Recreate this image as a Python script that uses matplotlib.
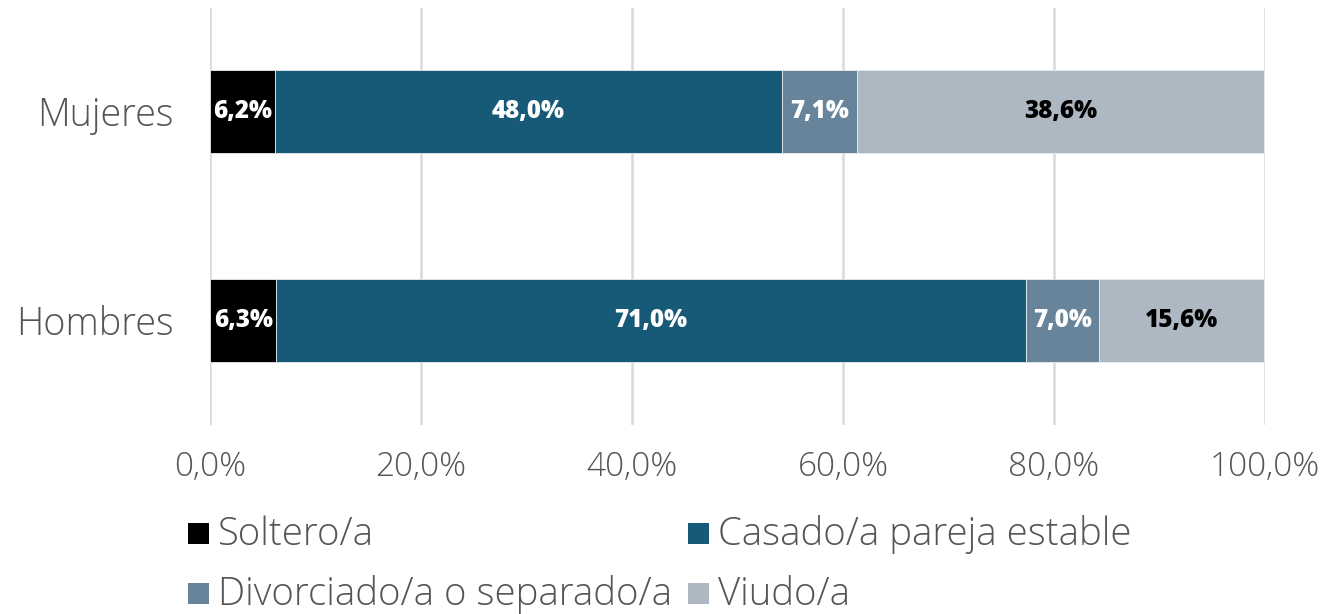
import matplotlib
matplotlib.use("Agg")
import matplotlib.pyplot as plt
from matplotlib.patches import Rectangle
import numpy as np

categories = ["Hombres", "Mujeres"]
series_names = ["Soltero/a", "Casado/a pareja estable", "Divorciado/a o separado/a", "Viudo/a"]
values = {
    "Soltero/a": [6.3, 6.2],
    "Casado/a pareja estable": [71.0, 48.0],
    "Divorciado/a o separado/a": [7.0, 7.1],
    "Viudo/a": [15.6, 38.6],
}
colors = ["#000000", "#165a78", "#68849a", "#adb8c3"]
label_colors = ["white", "white", "white", "black"]
xticks = [0, 20, 40, 60, 80, 100]
xtick_labels = ["0,0%", "20,0%", "40,0%", "60,0%", "80,0%", "100,0%"]

plt.rcParams['font.family'] = ['Open Sans', 'DejaVu Sans']
W, H = 1324, 614
fig = plt.figure(figsize=(W/100, H/100), dpi=100)
ax = fig.add_axes([210/W, 1-425/H, (1265-210)/W, (425-8)/H])

y = np.arange(len(categories))
left = np.zeros(len(categories))
for name, col, lc in zip(series_names, colors, label_colors):
    v = np.array(values[name])
    ax.barh(y, v, left=left, height=0.397, color=col, edgecolor='#e8ecef', linewidth=0.6, zorder=3)
    for yi, (l, vi) in enumerate(zip(left, v)):
        ax.text(l + vi/2, yi, f"{vi:.1f}%".replace('.', ','), ha='center', va='center',
                color=lc, fontsize=17.5, fontweight='heavy', zorder=4)
    left = left + v

ax.set_xlim(0, 100)
ax.set_ylim(-0.5, 1.495)
ax.set_xticks(xticks)
ax.set_xticklabels(xtick_labels, fontsize=24, color='#555555', fontweight='light')
ax.set_yticks(y)
ax.set_yticklabels(categories, fontsize=27.2, color='#555555', fontweight='light')
ax.tick_params(axis='both', length=0)
ax.tick_params(axis='x', pad=18)
ax.tick_params(axis='y', pad=26)
ax.grid(axis='x', color='#d9d9d9', linewidth=1.8, zorder=0)
for s in ax.spines.values():
    s.set_visible(False)

# legend (manual)
legend_pos = [(188, 533), (688, 533), (188, 593), (688, 593)]
sq = 21
for (px, py), name, col in zip(legend_pos, series_names, colors):
    fig.patches.append(Rectangle((px/W, 1-(py+sq/2)/H), sq/W, sq/H, transform=fig.transFigure,
                                 facecolor=col, edgecolor='none'))
    fig.text((px+30)/W, 1-(py+2)/H, name, ha='left', va='center', fontsize=27.6,
             color='#555555', fontweight='light')

fig.savefig("out.png", dpi=100)
